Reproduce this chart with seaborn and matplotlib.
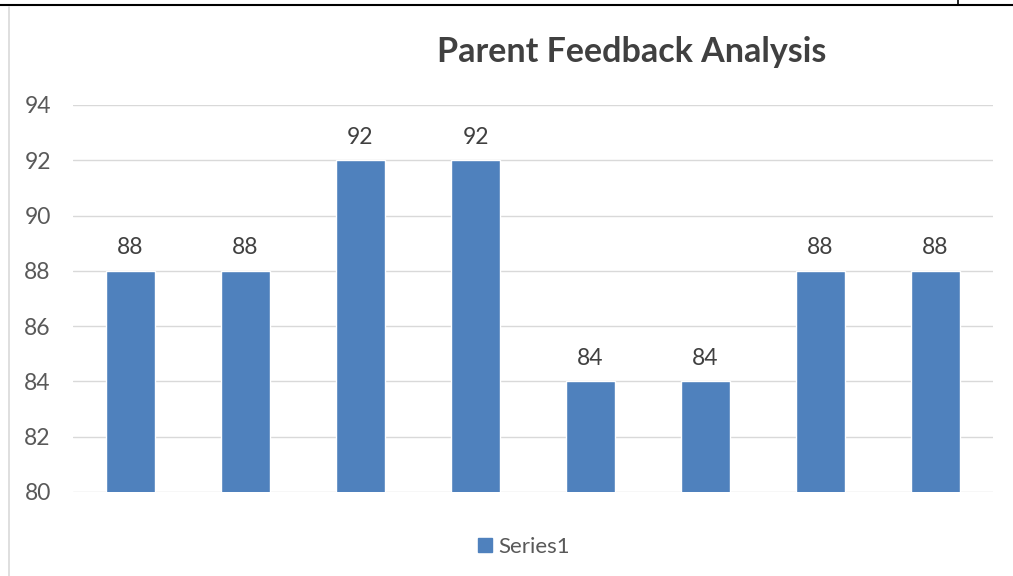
import pandas as pd
import matplotlib.pyplot as plt
import seaborn as sns
from matplotlib.lines import Line2D

# valori
categorii = ["1", "2", "3", "4", "5", "6", "7", "8"]
valori = [88, 88, 92, 92, 84, 84, 88, 88]
serie = ["Series1"] * len(categorii)
y_ticks = [80, 82, 84, 86, 88, 90, 92, 94]

df = pd.DataFrame({"cat": categorii, "val": valori, "serie": serie})

sns.set_theme(style="white")
plt.rcParams["font.family"] = ["Lato", "DejaVu Sans"]

fig = plt.figure(figsize=(10.13, 5.76), dpi=100)
ax = fig.add_axes([73 / 1013, 1 - 492 / 576, 920 / 1013, 387 / 576])

sns.barplot(data=df, x="cat", y="val", hue="serie", palette=["#4F81BD"],
            width=0.42, ax=ax, legend=False, saturation=1)

ax.set_ylim(80, 94)
ax.set_xlim(-0.5, 7.5)
ax.set_yticks(y_ticks)
ax.yaxis.grid(True, color="#D9D9D9", linewidth=1)
ax.set_axisbelow(True)
for s in ax.spines.values():
    s.set_visible(False)
ax.set_xticks([])
ax.set_xlabel("")
ax.set_ylabel("")
ax.tick_params(axis="y", length=0, pad=16, labelsize=16.5, labelcolor="#595959")

ax.bar_label(ax.containers[0], padding=9, fontsize=16.5, color="#404040")

fig.text(632 / 1013, 1 - 52 / 576, "Parent Feedback Analysis", ha="center", va="center",
         fontsize=24.5, fontweight="bold", color="#404040")

handle = plt.Rectangle((0, 0), 1, 1, color="#4F81BD")
fig.legend([handle], ["Series1"], loc="center", bbox_to_anchor=(524 / 1013, 1 - 547 / 576),
           frameon=False, fontsize=16, handlelength=0.6, handleheight=0.6,
           handletextpad=0.3, labelcolor="#595959")

# marginile din captura
fig.add_artist(Line2D([0, 1], [1 - 5 / 576, 1 - 5 / 576], color="black", linewidth=1.5))
fig.add_artist(Line2D([958 / 1013, 958 / 1013], [1, 1 - 5 / 576], color="black", linewidth=1.2))
fig.add_artist(Line2D([9 / 1013, 9 / 1013], [0, 1 - 7 / 576], color="#D9D9D9", linewidth=1.2))

fig.savefig("out.png", dpi=100)
